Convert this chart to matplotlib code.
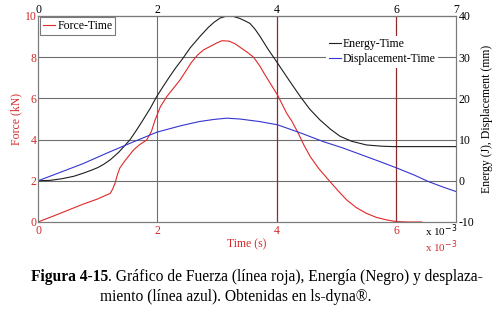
import numpy as np
import matplotlib.pyplot as plt

plt.rcParams['font.family'] = ['Liberation Serif', 'DejaVu Serif']

# time in ms (axis shows x 10^-3 s)
t_force = [0, 0.25, 0.5, 0.75, 1.0, 1.1, 1.21, 1.25, 1.29, 1.33, 1.37, 1.45, 1.6, 1.7, 1.82, 1.9,
           1.96, 2.05, 2.16, 2.27, 2.38, 2.47, 2.57, 2.67, 2.77, 2.9, 3.0, 3.08, 3.2, 3.3, 3.4,
           3.5, 3.61, 3.72, 3.8, 3.89, 4.01, 4.1, 4.17, 4.25, 4.36, 4.45, 4.56, 4.7, 4.89, 5.03,
           5.17, 5.33, 5.5, 5.67, 5.84, 6.0, 6.2, 6.43]
force = [0, 0.28, 0.57, 0.86, 1.12, 1.25, 1.39, 1.6, 1.88, 2.3, 2.62, 2.95, 3.5, 3.75, 3.98, 4.4,
         4.95, 5.6, 6.1, 6.5, 6.9, 7.3, 7.75, 8.1, 8.35, 8.55, 8.7, 8.8, 8.78, 8.65, 8.45,
         8.25, 8.0, 7.55, 7.15, 6.73, 6.17, 5.65, 5.25, 4.9, 4.3, 3.75, 3.17, 2.6, 1.96, 1.5,
         1.07, 0.7, 0.42, 0.22, 0.1, 0.02, 0.0, 0.0]

t_energy = [0, 0.2, 0.4, 0.6, 0.76, 0.9, 1.0, 1.1, 1.21, 1.35, 1.45, 1.54, 1.65, 1.76, 1.88, 1.99,
            2.1, 2.2, 2.3, 2.41, 2.55, 2.71, 2.85, 2.95, 3.05, 3.16, 3.27, 3.38, 3.47, 3.55, 3.64,
            3.72, 3.85, 4.01, 4.2, 4.39, 4.55, 4.72, 4.9, 5.06, 5.25, 5.5, 5.75, 5.95, 6.5, 7.0]
energy = [0, 0.1, 0.5, 1.1, 1.86, 2.6, 3.2, 4.0, 5.1, 6.9, 8.5, 9.95, 12.3, 14.8, 17.6, 20.5,
          23, 25.2, 27.3, 29.4, 32.3, 35, 37.2, 38.5, 39.5, 40, 39.9, 39.4, 38.8, 38.2, 36.7,
          35, 32, 28.6, 24.5, 20.5, 17.4, 14.8, 12.5, 10.8, 9.6, 8.7, 8.4, 8.3, 8.3, 8.3]

t_disp = [0, 0.4, 0.76, 1.15, 1.54, 1.99, 2.4, 2.71, 2.95, 3.16, 3.38, 3.7, 4.01, 4.4, 4.78, 5.1,
          5.4, 5.7, 6.01, 6.3, 6.54, 6.78, 7.0]
disp = [0, 2.2, 4.2, 6.7, 9.1, 11.8, 13.4, 14.4, 14.9, 15.2, 15.0, 14.4, 13.6, 11.6, 9.5, 8.0,
        6.4, 4.8, 3.1, 1.4, -0.2, -1.5, -2.6]

bottom_ticks = [0, 2, 4, 6]
top_ticks = [0, 2, 4, 6, 7]
left_ticks = [0, 2, 4, 6, 8, 10]
right_ticks = [-10, 0, 10, 20, 30, 40]

red = '#e02828'
lab_red = '#d42a2a'
grid_c = '#6e6e6e'
brown = '#8c2a2a'
fs = 8.5

fig = plt.figure(figsize=(4.94, 3.14), dpi=100)
ax = fig.add_axes([38/494, 1-222/314, 418/494, 206/314])
ax2 = ax.twinx()

ax.set_xlim(0, 7)
ax.set_ylim(0, 10)
ax2.set_ylim(-10, 40)

# grid
for y in [2, 4, 6, 8]:
    ax.axhline(y, color=grid_c, lw=0.8, zorder=0)
ax.axvline(2, color=grid_c, lw=0.8, zorder=0)
ax.axvline(4, color=brown, lw=0.9, zorder=0)
ax.axvline(6, color=brown, lw=0.9, zorder=0)

l1, = ax.plot(t_force, force, color=red, lw=0.8, label='Force-Time')
l2, = ax2.plot(t_energy, energy, color='#1e1e1e', lw=0.8, label='Energy-Time')
l3, = ax2.plot(t_disp, disp, color='#3535d0', lw=0.8, label='Displacement-Time')

for a in (ax, ax2):
    for s in a.spines.values():
        s.set_color('#7a7a7a')
        s.set_linewidth(0.8)

ax.set_xticks(bottom_ticks)
ax.set_yticks(left_ticks)
ax.tick_params(axis='both', length=0, labelsize=fs, labelcolor=lab_red, pad=2)
ax.tick_params(axis='y', pad=1)
ax2.set_yticks(right_ticks)
ax2.set_yticklabels(['-10', '0', '10', '20', '30', '40'])
ax2.tick_params(axis='y', length=0, labelsize=fs, labelcolor='black', pad=2)

top = ax.secondary_xaxis('top')
top.set_xticks(top_ticks)
top.tick_params(length=0, labelsize=fs, labelcolor='black', pad=0)
top.spines['top'].set_color('#7a7a7a')

ax.set_ylabel('Force (kN)', color=lab_red, fontsize=fs, labelpad=2)
ax2.set_ylabel('Energy (J), Displacement (mm)', color='black', fontsize=fs, labelpad=5)
ax.set_xlabel('Time (s)', color=lab_red, fontsize=fs, labelpad=1)

fig.text(425/494, 1-231/314, r'x 10$^{-3}$', fontsize=8, color='black', va='center')
fig.text(425/494, 1-246.5/314, r'x 10$^{-3}$', fontsize=8, color=lab_red, va='center')

leg1 = ax2.legend(handles=[l1], loc='upper left', bbox_to_anchor=(0.005, 0.995), borderaxespad=0,
                  fontsize=fs, handlelength=1.0, handletextpad=0.2, fancybox=False,
                  borderpad=0.25, framealpha=1)
leg1.get_frame().set_edgecolor('#7a7a7a')
leg1.get_frame().set_linewidth(0.8)
ax2.add_artist(leg1)

leg2 = ax2.legend(handles=[l2, l3], loc='upper left', bbox_to_anchor=(0.69, 0.905), borderaxespad=0,
                  fontsize=fs, handlelength=1.0, handletextpad=0.2, frameon=True, fancybox=False,
                  borderpad=0.2, labelspacing=0.3, framealpha=1)
leg2.get_frame().set_edgecolor('none')
ax2.patch.set_visible(False)

# caption
renderer = fig.canvas.get_renderer()
cap_bold = 'Figura 4-15'
cap_rest = '. Gráfico de Fuerza (línea roja), Energía (Negro) y desplaza-'
tb = fig.text(31/494, 1-277/314, cap_bold, fontsize=11.2, fontweight='bold', va='center')
bb = tb.get_window_extent(renderer)
fig.text(bb.x1/fig.bbox.width, 1-277/314, cap_rest, fontsize=11.2, va='center')
fig.text(236/494, 1-297/314, 'miento (línea azul). Obtenidas en ls-dyna®.', fontsize=11.2,
         va='center', ha='center')

fig.savefig('out.png', dpi=100)
